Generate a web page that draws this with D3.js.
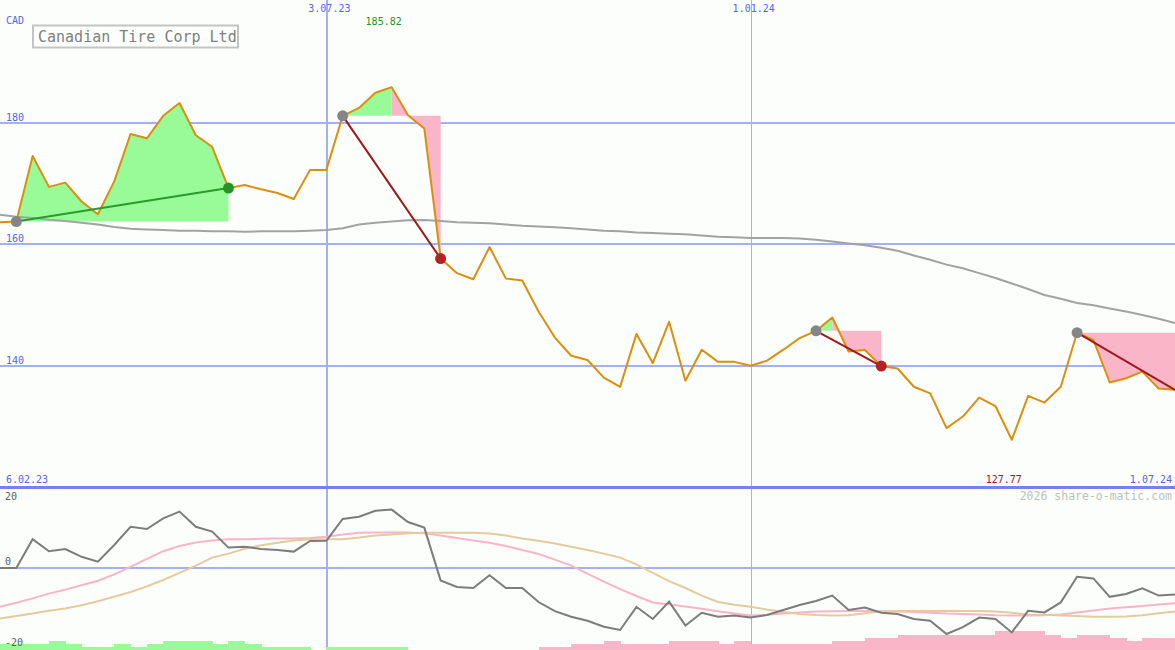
<!DOCTYPE html>
<html>
<head>
<meta charset="utf-8">
<script src="https://cdn.jsdelivr.net/npm/d3@7"></script>
<style>
  html, body { margin: 0; padding: 0; background: #fbfefb; }
  svg { display: block; }
  text { font-family: "DejaVu Sans Mono", "Liberation Mono", monospace; }
</style>
</head>
<body>
<svg id="chart" width="1175" height="650"></svg>
<script>
// ---------------- data (weekly) ----------------
const title = "Canadian Tire Corp Ltd";
const currency = "CAD";
const startLabel = "6.02.23";
const endLabel = "1.07.24";
const credit = "2026 share-o-matic.com";

const price = [163.6,163.7,174.5,169.4,170.1,167.0,164.9,170.3,178.1,177.4,
  181.1,183.2,177.9,176.0,169.2,169.7,169.0,168.4,167.4,172.2,
  172.2,181.1,182.4,184.9,185.82,181.2,179.0,157.6,155.2,154.2,
  159.5,154.3,154.0,148.9,144.6,141.6,140.9,138.0,136.5,145.2,
  140.4,147.2,137.5,142.6,140.6,140.6,139.95,140.8,142.6,144.5,
  145.7,147.9,142.3,142.55,139.9,139.5,136.5,135.4,129.7,131.6,
  134.7,133.3,127.77,135.0,133.9,136.5,145.4,144.2,137.2,137.9,
  139.0,136.2,136.0];

const movingAvg = [164.8,164.5,164.3,164.0,163.8,163.5,163.2,162.8,162.5,162.4,
  162.3,162.2,162.2,162.1,162.1,162.0,162.1,162.1,162.1,162.2,
  162.3,162.6,163.2,163.5,163.7,163.9,163.95,163.8,163.6,163.5,
  163.4,163.2,163.0,162.9,162.75,162.6,162.4,162.2,162.1,161.9,
  161.8,161.7,161.6,161.4,161.2,161.1,161.0,161.0,161.0,160.9,
  160.7,160.4,160.1,159.8,159.4,158.9,158.1,157.4,156.6,156.0,
  155.2,154.4,153.5,152.6,151.6,151.0,150.3,149.9,149.4,148.9,
  148.3,147.7,147.0];

// lower panel
const momentum = [0,0,7.2,4.2,4.75,2.8,1.6,5.75,10.3,9.75,
  12.4,14.1,10.3,9.1,5.1,5.3,4.75,4.5,4.1,6.75,
  6.8,12.25,12.8,14.3,14.6,11.5,10.1,-3.1,-4.75,-5.0,
  -1.8,-5.0,-5.0,-8.5,-10.8,-12.2,-13.2,-14.7,-15.5,-9.7,
  -12.75,-8.4,-14.4,-11.2,-12.2,-11.9,-12.4,-11.75,-10.5,-9.25,
  -8.25,-6.9,-10.5,-9.9,-11.2,-11.5,-12.75,-13.2,-16.5,-14.8,
  -12.4,-12.75,-16.1,-10.7,-11.1,-8.6,-2.2,-2.6,-7.2,-6.5,
  -5.1,-6.9,-6.6];

const signalPink = [-9.7,-8.7,-7.6,-6.4,-5.4,-4.3,-3.2,-1.6,0.3,2.3,
  4.2,5.5,6.4,6.9,7.2,7.2,7.3,7.4,7.4,7.5,
  7.8,8.4,8.8,8.9,8.9,8.9,8.7,8.1,7.5,6.9,
  6.3,5.5,4.5,3.5,2.1,0.6,-1.4,-3.4,-5.3,-7.0,
  -8.6,-9.1,-9.6,-10.2,-10.8,-11.4,-11.9,-11.7,-11.4,-11.1,
  -10.9,-10.8,-10.75,-10.75,-10.8,-10.9,-11.0,-11.2,-11.4,-11.5,
  -11.6,-11.8,-11.9,-11.9,-11.8,-11.6,-11.1,-10.6,-10.1,-9.8,
  -9.5,-9.1,-8.8];

const signalTan = [-12.6,-12.0,-11.4,-10.7,-10.1,-9.3,-8.3,-7.2,-6.0,-4.6,
  -3.0,-1.2,0.6,2.6,3.6,4.8,5.7,6.3,6.9,7.2,
  7.2,7.2,7.6,8.1,8.4,8.7,8.8,8.8,8.8,8.8,
  8.6,8.1,7.4,6.8,6.1,5.3,4.5,3.6,2.6,0.9,
  -1.2,-3.3,-5.0,-6.9,-8.5,-9.2,-9.7,-10.4,-11.0,-11.5,
  -11.75,-11.9,-11.8,-11.3,-10.9,-10.75,-10.75,-10.75,-10.75,-10.75,
  -10.75,-10.9,-11.2,-11.6,-11.7,-11.9,-12.0,-12.2,-12.2,-12.1,
  -11.8,-11.3,-10.9];

// histogram (one bar per week interval; + green, - pink)
const histogram = [2,2,2,3,2,1,1,2,1,2,
  3,3,3,2,3,2,1,1,1,0,
  1,1,1,1,1,0,0,0,0,0,
  0,0,0,-1,-1,-2,-2,-3,-2,-2,
  -2,-3,-3,-3,-2,-3,-2,-2,-2,-2,
  -2,-3,-3,-4,-4,-5,-5,-5,-5,-5,
  -5,-6,-6,-6,-5,-4,-5,-5,-4,-3,
  -4,-4];

// vertical date grid
const gridIdx = [20, 46];
const gridLabels = ["3.07.23", "1.01.24"];
const gridWidths = [2, 1];
// horizontal price ticks
const priceTicks = [180, 160, 140];
const lowerTicks = [20, 0, -20];

// trades (entry index, exit index, closed?)
const tradeEntry = [1, 21, 50, 66];
const tradeExit = [14, 27, 54, 72];
const tradeClosed = [true, true, true, false];

// ---------------- drawing ----------------
const W = 1175, H = 650;
const svg = d3.select("#chart");
const C = {
  bg: "#fbfefb", grid: "#a3b0f2", axis: "#7482ee", label: "#5565ee",
  price: "#db8f0c", ma: "#a2a2a2", green: "#98fb98", pink: "#fbb5c8",
  winLine: "#2a9a2a", lossLine: "#9e1a1a", winDot: "#259325", lossDot: "#b22222",
  entryDot: "#858585", mom: "#7c7c7c", sigPink: "#f9b4c8", sigTan: "#e4cb9e",
  lowLabel: "#606060", title: "#808080", box: "#c4c4c4", credit: "#c0c0c0"
};

svg.append("rect").attr("width", W).attr("height", H).attr("fill", C.bg);

const n = price.length;
const x = d3.scaleLinear().domain([0, n - 1]).range([0, W]);
const y = d3.scaleLinear().domain([120, 200]).range([487, 1]);
const yl = d3.scaleLinear().domain([-20, 20]).range([648, 488]);
const barH = d3.scaleLinear().domain([0, 10]).range([0, 31]);

const mainClip = svg.append("clipPath").attr("id", "mainclip")
  .append("rect").attr("x", 0).attr("y", 0).attr("width", W).attr("height", 486);

// horizontal grid (main)
svg.append("g").selectAll("line").data(priceTicks).join("line")
  .attr("x1", 0).attr("x2", W)
  .attr("y1", d => Math.round(y(d))).attr("y2", d => Math.round(y(d)))
  .attr("stroke", C.grid).attr("stroke-width", 2).attr("shape-rendering", "crispEdges");
// lower zero line
svg.append("line").attr("x1", 0).attr("x2", W)
  .attr("y1", yl(0)).attr("y2", yl(0))
  .attr("stroke", C.grid).attr("stroke-width", 2).attr("shape-rendering", "crispEdges");

// vertical grid
svg.append("g").selectAll("line").data(gridIdx).join("line")
  .attr("x1", d => Math.round(x(d)) + 0.5).attr("x2", d => Math.round(x(d)) + 0.5)
  .attr("y1", 0).attr("y2", H)
  .attr("stroke", C.grid).attr("stroke-width", (d, i) => gridWidths[i])
  .attr("shape-rendering", "crispEdges");

// histogram bars
svg.append("g").selectAll("rect").data(histogram).join("rect")
  .attr("x", (d, i) => x(i))
  .attr("width", (d, i) => x(i + 1) - x(i) + 0.5)
  .attr("y", d => H - barH(Math.abs(d)))
  .attr("height", d => barH(Math.abs(d)))
  .attr("fill", d => d >= 0 ? C.green : C.pink)
  .attr("shape-rendering", "crispEdges");

// separator axis
svg.append("line").attr("x1", 0).attr("x2", W).attr("y1", 487.5).attr("y2", 487.5)
  .attr("stroke", C.axis).attr("stroke-width", 3).attr("shape-rendering", "crispEdges");

// trade fills
const fillG = svg.append("g").attr("clip-path", "url(#mainclip)");
tradeEntry.forEach((e, t) => {
  const ex = tradeExit[t];
  const base = price[e];
  const win = price[ex] > base;
  let peak = e;
  for (let i = e; i <= ex; i++) if (price[i] > price[peak]) peak = i;
  const idx = (a, b) => d3.range(a, b + 1);
  const area = d3.area().x(i => x(i)).y0(y(base)).y1(i => y(price[i]));
  if (win) {
    fillG.append("path").attr("d", area(idx(e, ex))).attr("fill", C.green);
  } else {
    if (peak > e) fillG.append("path").attr("d", area(idx(e, peak))).attr("fill", C.green);
    fillG.append("path").attr("d", area(idx(peak, ex))).attr("fill", C.pink);
  }
});

// moving average
const lineMain = arr => d3.line().x((d, i) => x(i)).y(d => y(d))(arr);
svg.append("path").attr("d", lineMain(movingAvg)).attr("fill", "none")
  .attr("stroke", C.ma).attr("stroke-width", 2);

// price
svg.append("path").attr("d", lineMain(price)).attr("fill", "none")
  .attr("stroke", C.price).attr("stroke-width", 2).attr("stroke-linejoin", "round");

// trade lines and dots
tradeEntry.forEach((e, t) => {
  const ex = tradeExit[t];
  const win = price[ex] > price[e];
  svg.append("line")
    .attr("x1", x(e)).attr("y1", y(price[e]))
    .attr("x2", x(ex)).attr("y2", y(price[ex]))
    .attr("stroke", win ? C.winLine : C.lossLine).attr("stroke-width", 2);
});
tradeEntry.forEach((e, t) => {
  const ex = tradeExit[t];
  const win = price[ex] > price[e];
  svg.append("circle").attr("cx", x(e)).attr("cy", y(price[e])).attr("r", 5.5)
    .attr("fill", C.entryDot);
  if (tradeClosed[t]) {
    svg.append("circle").attr("cx", x(ex)).attr("cy", y(price[ex])).attr("r", 5.5)
      .attr("fill", win ? C.winDot : C.lossDot);
  }
});

// lower panel lines
const lineLow = arr => d3.line().x((d, i) => x(i)).y(d => yl(d))(arr);
svg.append("path").attr("d", lineLow(signalPink)).attr("fill", "none")
  .attr("stroke", C.sigPink).attr("stroke-width", 2);
svg.append("path").attr("d", lineLow(signalTan)).attr("fill", "none")
  .attr("stroke", C.sigTan).attr("stroke-width", 2);
svg.append("path").attr("d", lineLow(momentum)).attr("fill", "none")
  .attr("stroke", C.mom).attr("stroke-width", 2);

// ---------------- texts ----------------
const txt = (s, xx, yy, opts = {}) => svg.append("text").text(s)
  .attr("x", xx).attr("y", yy)
  .attr("font-size", opts.size || 10)
  .attr("fill", opts.fill || C.label)
  .attr("text-anchor", opts.anchor || "start");

txt(currency, 6, 24);
priceTicks.forEach(v => txt(String(v), 6, Math.round(y(v)) - 2.5));
gridIdx.forEach((g, i) => txt(gridLabels[i], x(g) + 3, 12, { anchor: "middle" }));

// max / min labels
const maxI = d3.maxIndex(price), minI = d3.minIndex(price);
txt(price[maxI].toFixed(2), x(maxI) - 8, 25, { anchor: "middle", fill: C.winDot });
txt(price[minI].toFixed(2), x(minI) - 8, 483, { anchor: "middle", fill: C.lossLine });

txt(startLabel, 6, 483);
txt(endLabel, 1172, 483, { anchor: "end" });
txt(credit, 1172, 500, { anchor: "end", size: 11.5, fill: C.credit });

lowerTicks.forEach((v, i) => txt(String(v), 5, [499.5, 565, 646][i], { fill: C.lowLabel }));

// title box
svg.append("rect").attr("x", 33).attr("y", 25.5).attr("width", 205).attr("height", 22)
  .attr("fill", "none").attr("stroke", C.box).attr("stroke-width", 2);
txt(title, 38, 42, { size: 15, fill: C.title });
</script>
</body>
</html>
